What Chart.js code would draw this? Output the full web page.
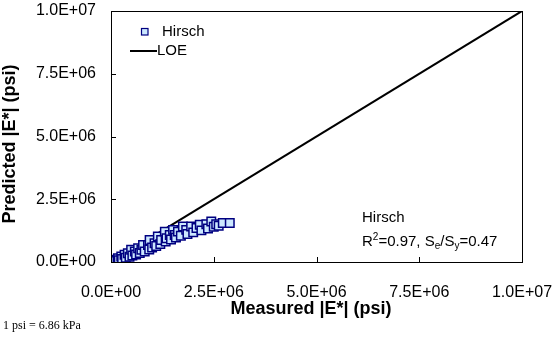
<!DOCTYPE html>
<html>
<head>
<meta charset="utf-8">
<script src="https://cdn.jsdelivr.net/npm/chart.js@4/dist/chart.umd.min.js"></script>
<style>
html,body{margin:0;padding:0;background:#fff;}
#wrap{width:560px;height:338px;position:relative;}
</style>
</head>
<body>
<div id="wrap"><canvas id="c" width="560" height="338"></canvas></div>
<script>
// Measured |E*| (psi)
const measured = [30000,60000,90000,120000,170000,190000,250000,270000,330000,360000,410000,450000,490000,520000,580000,610000,660000,700000,740000,780000,820000,900000,930000,940000,1000000,1060000,1100000,1140000,1200000,1220000,1310000,1330000,1350000,1430000,1460000,1510000,1550000,1580000,1630000,1700000,1750000,1830000,1860000,1950000,2000000,2080000,2160000,2200000,2320000,2360000,2440000,2500000,2560000,2620000,2720000,2890000];
// Predicted |E*| (psi), Hirsch model
const predicted = [50000,20000,90000,40000,150000,70000,220000,120000,290000,170000,350000,210000,490000,260000,420000,300000,550000,360000,490000,680000,420000,680000,500000,880000,580000,750000,640000,1020000,720000,880000,1210000,820000,950000,1080000,900000,1280000,1080000,980000,1210000,1050000,1410000,1280000,1120000,1410000,1180000,1350000,1480000,1260000,1500000,1330000,1610000,1400000,1500000,1440000,1550000,1550000];
// Line of equality
const loeX = [0, 10000000];
const loeY = [0, 10000000];
const tickValues = [0, 2500000, 5000000, 7500000, 10000000];
const seriesName = "Hirsch";
const lineName = "LOE";
const xTitle = "Measured |E*| (psi)";
const yTitle = "Predicted |E*| (psi)";
const statsModel = "Hirsch";
const r2 = "0.97";
const seSy = "0.47";
const footnote = "1 psi = 6.86 kPa";

const FONT = 'Arial, "Liberation Sans", sans-serif';
const SERIF = '"Times New Roman", "Liberation Serif", serif';
const MARK_FILL = '#CCE8FF';
const MARK_EDGE = '#000080';

function fmtE(v){
  let s = Number(v).toExponential(1).split('e');
  let e = parseInt(s[1],10);
  let sign = e < 0 ? '-' : '+';
  let ae = Math.abs(e);
  return s[0] + 'E' + sign + (ae < 10 ? '0' + ae : '' + ae);
}

const extras = {
  id: 'extras',
  afterDraw(chart){
    const ctx = chart.ctx;
    const a = chart.chartArea;
    const xs = chart.scales.x, ys = chart.scales.y;
    ctx.save();
    // frame
    ctx.strokeStyle = '#000';
    ctx.lineWidth = 1;
    ctx.strokeRect(Math.round(a.left)+0.5, Math.round(a.top)+0.5, Math.round(a.right-a.left), Math.round(a.bottom-a.top));
    // inward ticks
    ctx.beginPath();
    tickValues.forEach(v=>{
      const px = Math.round(xs.getPixelForValue(v))+0.5;
      ctx.moveTo(px, a.bottom); ctx.lineTo(px, a.bottom-5);
      const py = Math.round(ys.getPixelForValue(v))+0.5;
      ctx.moveTo(a.left, py); ctx.lineTo(a.left+5, py);
    });
    ctx.stroke();

    // axis titles
    ctx.fillStyle = '#000';
    ctx.font = 'bold 18px ' + FONT;
    ctx.textAlign = 'center';
    ctx.textBaseline = 'middle';
    ctx.fillText(xTitle, 311, 309);
    ctx.save();
    ctx.translate(10, 144);
    ctx.rotate(-Math.PI/2);
    ctx.fillText(yTitle, 0, 0);
    ctx.restore();

    // legend
    ctx.font = '15px ' + FONT;
    ctx.textAlign = 'left';
    ctx.fillStyle = MARK_FILL;
    ctx.strokeStyle = MARK_EDGE;
    ctx.lineWidth = 1.2;
    ctx.fillRect(141.5, 28.5, 6.5, 6.5);
    ctx.strokeRect(141.5, 28.5, 6.5, 6.5);
    ctx.fillStyle = '#000';
    ctx.fillText(seriesName, 162, 32);
    ctx.strokeStyle = '#000';
    ctx.lineWidth = 2;
    ctx.beginPath(); ctx.moveTo(130, 51); ctx.lineTo(157, 51); ctx.stroke();
    ctx.fillText(lineName, 157, 51);

    // stats annotation
    ctx.fillText(statsModel, 362, 218);
    let x = 362, y = 242;
    const seg = (t, size, dy) => {
      ctx.font = size + 'px ' + FONT;
      ctx.fillText(t, x, y + dy);
      x += ctx.measureText(t).width;
    };
    seg('R', 15, 0);
    seg('2', 10, -5);
    seg('=' + r2 + ', S', 15, 0);
    seg('e', 10, 4);
    seg('/S', 15, 0);
    seg('y', 10, 4);
    seg('=' + seSy, 15, 0);

    // footnote
    ctx.font = '12px ' + SERIF;
    ctx.fillText(footnote, 3, 326);
    ctx.restore();
  }
};

new Chart(document.getElementById('c'), {
  type: 'scatter',
  data: {
    datasets: [
      {
        label: seriesName,
        data: measured.map((m,i)=>({x:m, y:predicted[i]})),
        pointStyle: 'rect',
        pointRadius: 6,
        pointBackgroundColor: MARK_FILL,
        pointBorderColor: MARK_EDGE,
        pointBorderWidth: 1.5,
        showLine: false
      },
      {
        label: lineName,
        type: 'line',
        data: loeX.map((v,i)=>({x:v, y:loeY[i]})),
        borderColor: '#000',
        borderWidth: 2,
        pointRadius: 0,
        fill: false
      }
    ]
  },
  options: {
    responsive: false,
    animation: false,
    devicePixelRatio: 1,
    layout: { padding: { left: 0, right: 38, top: 11, bottom: 0 } },
    plugins: { legend: { display: false }, tooltip: { enabled: false } },
    scales: {
      x: {
        type: 'linear', min: 0, max: 10000000,
        afterFit: s => { s.height = 76; s.paddingLeft = 0; s.paddingRight = 0; s.paddingTop = 0; s.paddingBottom = 0; },
        afterBuildTicks: s => { s.ticks = tickValues.map(v=>({value:v})); },
        grid: { display: false, drawTicks: false, tickLength: 0 },
        border: { display: false },
        ticks: { color: '#000', font: { family: FONT, size: 16 }, padding: 21, maxRotation: 0, autoSkip: false, callback: v => fmtE(v) }
      },
      y: {
        type: 'linear', min: 0, max: 10000000,
        afterFit: s => { s.width = 111; s.paddingLeft = 0; s.paddingRight = 0; s.paddingTop = 0; s.paddingBottom = 0; },
        afterBuildTicks: s => { s.ticks = tickValues.map(v=>({value:v})); },
        grid: { display: false, drawTicks: false, tickLength: 0 },
        border: { display: false },
        ticks: { color: '#000', font: { family: FONT, size: 16 }, padding: 15, autoSkip: false, callback: v => fmtE(v) }
      }
    }
  },
  plugins: [extras]
});
</script>
</body>
</html>
